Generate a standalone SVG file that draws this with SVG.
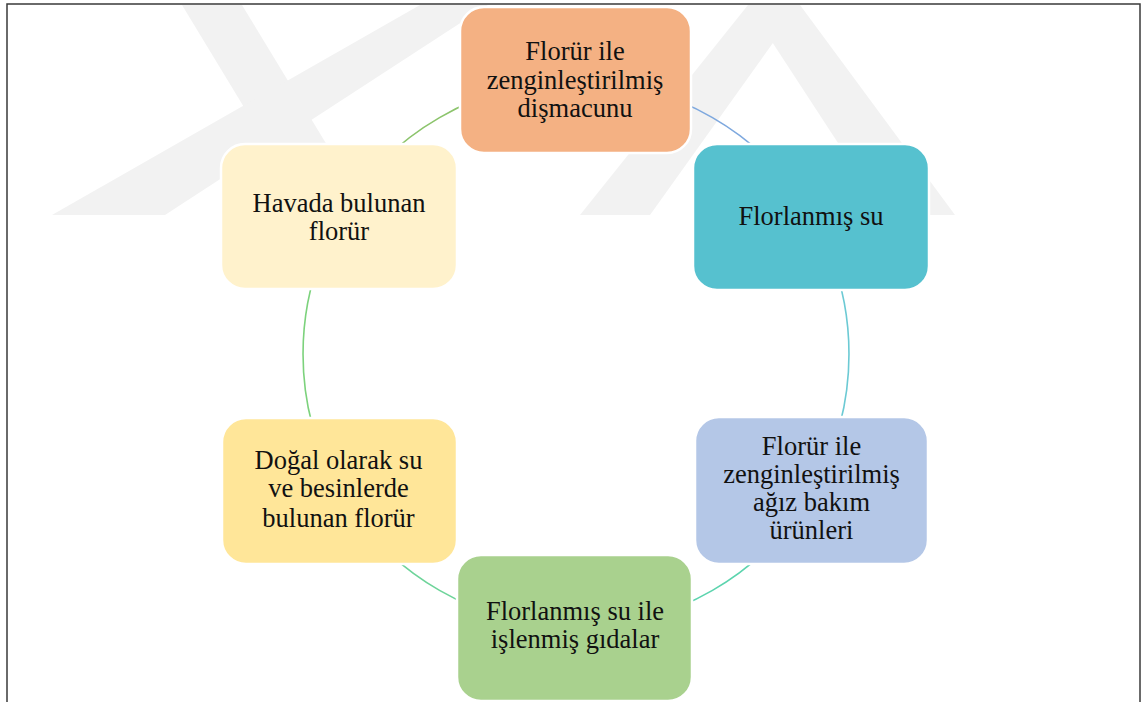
<svg xmlns="http://www.w3.org/2000/svg" width="1145" height="702" viewBox="0 0 1145 702">
<style>
.box{stroke:#ffffff;stroke-width:2.5}
.t{font-family:"Liberation Serif","Times New Roman",serif;font-size:26.5px;fill:#111111;text-anchor:middle}
.arc{fill:none;stroke-width:1.6}
.wm{fill:#f2f2f2}
</style>
<rect x="0" y="0" width="1145" height="702" fill="#ffffff"/>
<g id="watermark">
<polygon class="wm" points="182,5 242,5 330,150 270,150"/>
<polygon class="wm" points="420,5 488,5 165,215 52,215"/>
<polygon class="wm" points="748,5 800,5 955,215 885,215"/>
<polygon class="wm" points="748,5 800,5 650,215 580,215"/>
</g>
<rect x="7" y="4" width="1133" height="720" fill="none" stroke="#3a3a3a" stroke-width="1.5"/>
<g id="connectors">
<path class="arc" stroke="#7ea8de" d="M576,81 A273,273 0 0 1 812.4,217.5"/>
<path class="arc" stroke="#6ccad4" d="M812.4,217.5 A273,273 0 0 1 812.4,490.5"/>
<path class="arc" stroke="#5cd4ae" d="M812.4,490.5 A273,273 0 0 1 576,627"/>
<path class="arc" stroke="#6ed49a" d="M576,627 A273,273 0 0 1 339.6,490.5"/>
<path class="arc" stroke="#7cd27c" d="M339.6,490.5 A273,273 0 0 1 339.6,217.5"/>
<path class="arc" stroke="#8cc46c" d="M339.6,217.5 A273,273 0 0 1 576,81"/>
</g>
<g id="n1">
<rect class="box" x="460" y="7" width="231" height="146" rx="24" fill="#f4b183"/>
<text class="t" x="575" y="60">Florür ile</text>
<text class="t" x="575" y="88.5">zenginleştirilmiş</text>
<text class="t" x="575" y="117">dişmacunu</text>
</g>
<g id="n2">
<rect class="box" x="693" y="144" width="236" height="146" rx="24" fill="#56c1cf"/>
<text class="t" x="811" y="225">Florlanmış su</text>
</g>
<g id="n3">
<rect class="box" x="695" y="417" width="233" height="147" rx="24" fill="#b4c7e7"/>
<text class="t" x="811.5" y="455">Florür ile</text>
<text class="t" x="811.5" y="483.3">zenginleştirilmiş</text>
<text class="t" x="811.5" y="511">ağız bakım</text>
<text class="t" x="811.5" y="539.3">ürünleri</text>
</g>
<g id="n4">
<rect class="box" x="457" y="555" width="235" height="146" rx="24" fill="#a9d18e"/>
<text class="t" x="575" y="620">Florlanmış su ile</text>
<text class="t" x="575" y="648">işlenmiş gıdalar</text>
</g>
<g id="n5">
<rect class="box" x="222" y="418" width="235" height="146" rx="24" fill="#ffe699"/>
<text class="t" x="338.5" y="469.3">Doğal olarak su</text>
<text class="t" x="338.5" y="497.3">ve besinlerde</text>
<text class="t" x="338.5" y="526.7">bulunan florür</text>
</g>
<g id="n6">
<rect class="box" x="221" y="144" width="236" height="145" rx="24" fill="#fff2cc"/>
<text class="t" x="339" y="211.7">Havada bulunan</text>
<text class="t" x="339" y="240">florür</text>
</g>
</svg>
